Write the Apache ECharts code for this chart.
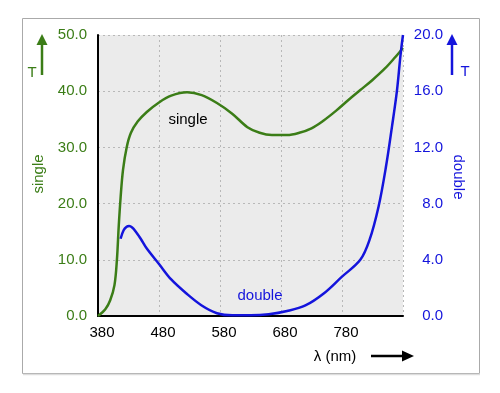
<!DOCTYPE html>
<html><head><meta charset="utf-8">
<script src="https://cdn.jsdelivr.net/npm/echarts@6/dist/echarts.min.js"></script>
<style>html,body{margin:0;padding:0;background:#fff}#c{width:500px;height:393px}</style>
</head><body><div id="c"></div>
<script>
var wavelengthSingle = [380, 392, 400, 407, 411, 414, 417, 421, 427, 434, 445, 460, 480, 500, 526, 550, 575, 600, 625, 645, 665, 690, 710, 730, 750, 770, 790, 810, 830, 850, 866, 880];
var single = [0, 1.2, 2.8, 5.5, 10, 16, 21, 26, 30, 32.6, 34.6, 36.3, 38.0, 39.2, 39.8, 39.3, 37.9, 36.0, 33.6, 32.6, 32.2, 32.2, 32.6, 33.4, 34.8, 36.5, 38.4, 40.2, 42.0, 44.0, 45.9, 47.7];
var wavelengthDouble = [417, 422, 427, 431, 436, 442, 450, 460, 480, 500, 525, 550, 575, 600, 630, 660, 690, 720, 750, 780, 810, 825, 840, 852, 862, 870, 876, 880];
var double = [5.5, 6.1, 6.35, 6.4, 6.3, 6.0, 5.5, 4.8, 3.7, 2.6, 1.6, 0.75, 0.2, 0.05, 0.05, 0.12, 0.35, 0.75, 1.6, 2.8, 4.0, 5.4, 7.8, 10.6, 13.5, 16.0, 18.6, 20];
var xTickLabels = ['380', '480', '580', '680', '780'];
var leftTicks = [0, 10, 20, 30, 40, 50];
var rightTicks = [0, 4, 8, 12, 16, 20];

var GREEN = '#3b7d17', BLUE = '#1414dc', FONT = 'Liberation Sans, Arial, sans-serif';
function pairs(xs, ys){ return xs.map(function(x,i){ return [x, ys[i]]; }); }

var chart = echarts.init(document.getElementById('c'));
chart.setOption({
  animation: false,
  textStyle: { fontFamily: FONT },
  grid: { left: 98, right: 97, top: 35, bottom: 77, show: true, backgroundColor: '#ebebeb', borderWidth: 0 },
  xAxis: {
    type: 'value', min: 380, max: 880, interval: 100,
    axisLine: { show: true, lineStyle: { color: '#000', width: 2 } },
    axisTick: { show: false },
    axisLabel: { color: '#000', fontSize: 15, margin: 9, padding: [0,0,0,8],
      formatter: function(v){ var s = String(v); return xTickLabels.indexOf(s) >= 0 ? s : ''; } },
    splitLine: { show: true, lineStyle: { color: '#b8b8b8', type: [2,3], width: 1 } }
  },
  yAxis: [{
    type: 'value', min: leftTicks[0], max: leftTicks[leftTicks.length-1], interval: 10, position: 'left',
    axisLine: { show: true, lineStyle: { color: '#000', width: 2 } },
    axisTick: { show: false },
    axisLabel: { color: GREEN, fontSize: 15, margin: 11, formatter: function(v){ return v.toFixed(1); } },
    splitLine: { show: true, lineStyle: { color: '#b8b8b8', type: [2,3], width: 1 } }
  }, {
    type: 'value', min: rightTicks[0], max: rightTicks[rightTicks.length-1], interval: 4, position: 'right',
    axisLine: { show: false }, axisTick: { show: false },
    axisLabel: { color: BLUE, fontSize: 15, margin: 40, align: 'right', formatter: function(v){ return v.toFixed(1); } },
    splitLine: { show: false }
  }],
  series: [{
    name: 'single', type: 'line', yAxisIndex: 0, data: pairs(wavelengthSingle, single),
    showSymbol: false, smooth: 0.35, lineStyle: { color: GREEN, width: 2.5 }, z: 3
  }, {
    name: 'double', type: 'line', yAxisIndex: 1, data: pairs(wavelengthDouble, double),
    showSymbol: false, smooth: 0.35, lineStyle: { color: BLUE, width: 2.5 }, z: 4
  }],
  graphic: [
    { type: 'rect', shape: { x: 22.5, y: 18.5, width: 457, height: 355 }, style: { fill: 'none', stroke: '#aaaaaa', lineWidth: 1 }, z: -1 },
    { type: 'line', shape: { x1: 23, y1: 374.5, x2: 480, y2: 374.5 }, style: { stroke: '#dddddd', lineWidth: 1.5 }, z: -1 },
    { type: 'line', shape: { x1: 42, y1: 75, x2: 42, y2: 42 }, style: { stroke: GREEN, lineWidth: 2.5 } },
    { type: 'polygon', shape: { points: [[36.5,45],[47.5,45],[42,34]] }, style: { fill: GREEN } },
    { type: 'text', x: 32, y: 73, style: { text: 'T', fill: GREEN, font: '15px ' + FONT, align: 'center', verticalAlign: 'middle' } },
    { type: 'text', x: 39, y: 174, rotation: Math.PI/2, style: { text: 'single', fill: GREEN, font: '15px ' + FONT, align: 'center', verticalAlign: 'middle' } },
    { type: 'line', shape: { x1: 452, y1: 75, x2: 452, y2: 42 }, style: { stroke: BLUE, lineWidth: 2.5 } },
    { type: 'polygon', shape: { points: [[446.5,45],[457.5,45],[452,34]] }, style: { fill: BLUE } },
    { type: 'text', x: 465, y: 72, style: { text: 'T', fill: BLUE, font: '15px ' + FONT, align: 'center', verticalAlign: 'middle' } },
    { type: 'text', x: 458, y: 177, rotation: -Math.PI/2, style: { text: 'double', fill: BLUE, font: '15px ' + FONT, align: 'center', verticalAlign: 'middle' } },
    { type: 'text', x: 335, y: 357, style: { text: 'λ (nm)', fill: '#000', font: '15px ' + FONT, align: 'center', verticalAlign: 'middle' } },
    { type: 'line', shape: { x1: 371, y1: 356, x2: 404, y2: 356 }, style: { stroke: '#000', lineWidth: 2.5 } },
    { type: 'polygon', shape: { points: [[402,350.5],[402,361.5],[414,356]] }, style: { fill: '#000' } },
    { type: 'text', x: 188, y: 120, z: 10, style: { text: 'single', fill: '#000', font: '15px ' + FONT, align: 'center', verticalAlign: 'middle' } },
    { type: 'text', x: 260, y: 296, z: 10, style: { text: 'double', fill: BLUE, font: '15px ' + FONT, align: 'center', verticalAlign: 'middle' } }
  ]
});
</script>
</body></html>
